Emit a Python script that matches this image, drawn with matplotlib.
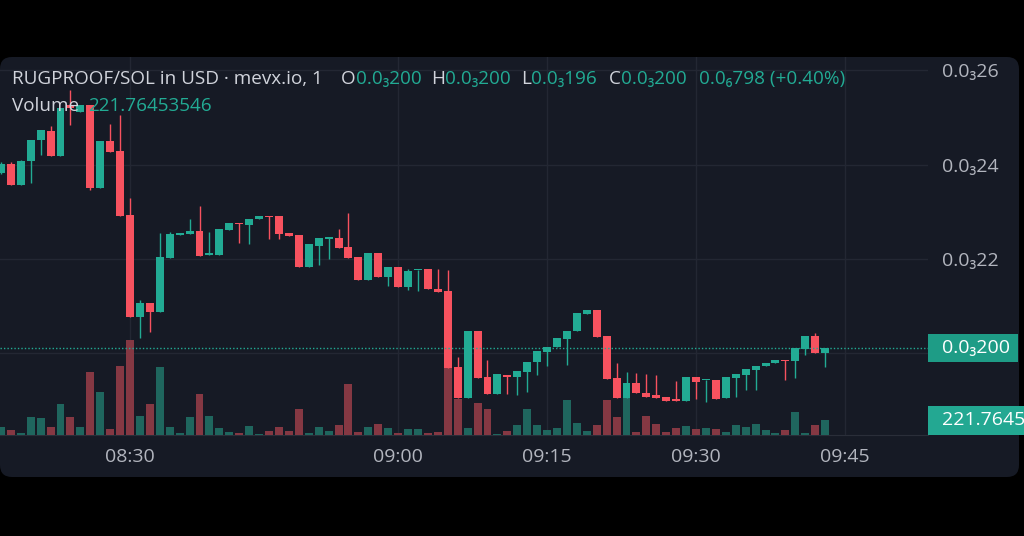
import matplotlib
matplotlib.use("Agg")
import matplotlib.pyplot as plt
from matplotlib.patches import Rectangle, FancyBboxPatch
from matplotlib.transforms import IdentityTransform
import numpy as np

# ---------------- data (prices in millionths of USD) ----------------
opens_e6 = [238.3, 240.1, 235.7, 240.8, 245.1, 247.2, 241.8, 252.6, 251.1, 252.6,
            235.0, 245.0, 242.9, 229.3, 207.7, 210.7, 208.8, 220.3, 225.1, 225.3,
            225.9, 220.8, 220.8, 226.1, 227.7, 227.3, 228.4, 229.1, 229.0, 225.6,
            225.1, 218.2, 222.8, 224.3, 224.4, 222.5, 220.5, 215.6, 221.3, 216.1,
            218.4, 214.1, 217.6, 217.8, 213.6, 213.3, 197.2, 190.5, 204.8, 194.9,
            191.4, 195.4, 195.1, 196.1, 198.1, 200.4, 201.3, 203.1, 204.8, 208.4,
            209.1, 203.6, 194.7, 190.5, 193.7, 191.7, 191.1, 190.7, 190.1, 189.9,
            195.1, 194.3, 194.4, 190.5, 194.7, 195.4, 196.5, 197.3, 197.9, 198.5,
            198.4, 200.9, 203.7, 200.0]
highs_e6 = [240.5, 240.5, 241.0, 245.2, 247.3, 248.2, 252.0, 255.8, 252.6, 252.6,
            245.0, 248.6, 250.5, 232.9, 211.3, 210.7, 225.5, 225.8, 225.6, 228.4,
            231.2, 225.8, 226.3, 227.7, 227.7, 228.4, 229.1, 229.1, 229.0, 225.6,
            225.1, 223.1, 224.5, 224.4, 226.3, 229.7, 220.5, 221.3, 221.3, 218.4,
            218.4, 217.9, 217.7, 217.8, 217.8, 217.7, 199.3, 204.8, 204.8, 198.6,
            195.6, 195.4, 196.3, 198.2, 200.5, 201.4, 203.2, 204.8, 208.5, 209.1,
            209.1, 203.6, 198.0, 196.1, 195.9, 195.6, 195.4, 190.7, 194.2, 195.1,
            195.1, 194.4, 194.4, 194.9, 195.6, 196.6, 197.3, 198.0, 198.5, 198.5,
            201.1, 203.7, 204.3, 201.1]
lows_e6 = [238.0, 235.7, 235.7, 236.1, 242.0, 241.8, 241.8, 248.4, 251.1, 234.6,
           235.0, 242.7, 229.1, 207.7, 203.3, 204.6, 208.8, 220.3, 225.1, 225.3,
           220.6, 220.8, 220.8, 226.1, 223.4, 223.2, 228.4, 224.3, 224.2, 224.9,
           218.2, 218.2, 218.7, 219.9, 222.3, 220.3, 215.6, 215.6, 216.1, 214.3,
           214.1, 213.4, 213.3, 213.6, 213.1, 196.9, 190.5, 190.5, 194.7, 191.4,
           191.4, 191.4, 191.2, 191.9, 195.4, 197.3, 201.3, 197.5, 204.8, 208.4,
           203.4, 194.5, 190.5, 190.5, 191.6, 190.8, 190.5, 189.9, 190.0, 189.9,
           190.3, 189.8, 190.3, 190.5, 190.8, 192.3, 192.3, 197.3, 197.9, 194.4,
           194.7, 199.7, 200.0, 197.1]
closes_e6 = [240.1, 235.7, 240.8, 245.2, 247.3, 241.8, 252.0, 252.0, 252.6, 235.0,
             245.0, 242.7, 229.1, 207.7, 210.7, 208.8, 220.5, 225.3, 225.6, 225.9,
             220.6, 221.2, 226.3, 227.7, 227.4, 228.4, 229.1, 228.9, 225.2, 224.9,
             218.2, 223.1, 224.5, 224.4, 222.3, 220.3, 215.6, 221.3, 216.1, 218.4,
             214.1, 217.5, 217.7, 213.6, 213.1, 196.9, 190.5, 204.8, 194.7, 191.4,
             195.6, 195.1, 196.3, 198.2, 200.5, 201.4, 203.2, 204.8, 208.5, 209.1,
             203.4, 194.5, 190.5, 193.7, 191.6, 190.8, 190.5, 189.9, 190.0, 195.1,
             193.9, 194.4, 190.3, 194.9, 195.6, 196.6, 197.3, 198.0, 198.5, 198.3,
             201.1, 203.7, 200.0, 201.1]
volumes = [123, 74, 34, 262, 247, 123, 458, 262, 114, 936,
           640, 89, 1020, 1404, 285, 458, 1001, 114, 34, 262,
           602, 285, 108, 49, 25, 137, 15, 64, 123, 64,
           380, 34, 123, 64, 148, 754, 49, 123, 163, 99,
           25, 84, 93, 25, 49, 986, 532, 103, 473, 384,
           22, 52, 148, 384, 148, 74, 103, 517, 177, 52,
           148, 517, 259, 547, 49, 281, 163, 49, 99, 133,
           84, 99, 84, 49, 148, 123, 163, 74, 34, 74,
           344, 34, 148, 221.76453546]

time_tick_index = [13, 40, 55, 70, 85]
time_tick_labels = ["08:30", "09:00", "09:15", "09:30", "09:45"]
price_ticks = [0.00020, 0.00022, 0.00024, 0.00026]
price_tick_labels = ["", "0.0\u208322", "0.0\u208324", "0.0\u208326"]

title_text = "RUGPROOF/SOL in USD \u00b7 mevx.io, 1"
ohlc_letters = ["O", "H", "L", "C"]
ohlc_values = ["0.0\u2083200", "0.0\u2083200", "0.0\u2083196", "0.0\u2083200"]
change_text = "0.0\u2086798 (+0.40%)"
volume_label = "Volume"
volume_value_text = "221.76453546"
last_price_text = "0.0\u2083200"

# ---------------- style ----------------
W, H = 1024, 536
BG = "#161a25"
OUTER = "#000000"
GRID = "#232733"
UP = "#22ab94"
DOWN = "#f7525f"
UP_VOL = "#1f665e"
DOWN_VOL = "#853843"
AXTXT = "#b2b5be"
TITLE = "#d1d4dc"
FONT = ["Open Sans", "DejaVu Sans"]
FS = 14.0
FS_LEG = 13.6
plt.rcParams["font.family"] = FONT

o = np.array(opens_e6) * 1e-6
hi = np.array(highs_e6) * 1e-6
lo = np.array(lows_e6) * 1e-6
c = np.array(closes_e6) * 1e-6
v = np.array(volumes, dtype=float)
idx = np.arange(len(o))
up = c >= o

fig = plt.figure(figsize=(W / 100, H / 100), dpi=100, facecolor=OUTER)
renderer = fig.canvas.get_renderer()

# panel with rounded corners (pixel coordinates)
panel = FancyBboxPatch((0, H - 477), 1019, 477 - 57,
                       boxstyle="round,pad=0,rounding_size=12",
                       transform=IdentityTransform(), facecolor=BG,
                       edgecolor="none", zorder=0)
fig.patches.append(panel)

L, R, T, B = 0, 928, 57, 435
rect = [L / W, 1 - B / H, (R - L) / W, (B - T) / H]
XLIM = (-0.09, 93.36)
YLIM = (0.00018272, 0.00026278)
VOL_TOP = 5587

axg = fig.add_axes(rect, zorder=1)
axv = fig.add_axes(rect, zorder=2)
axp = fig.add_axes(rect, zorder=3)
for a in (axg, axv, axp):
    a.set_facecolor("none")
    a.set_xlim(*XLIM)
    for s in a.spines.values():
        s.set_visible(False)
axg.set_ylim(*YLIM)
axp.set_ylim(*YLIM)
axv.set_ylim(0, VOL_TOP)

# grid layer
axg.set_yticks(price_ticks)
axg.set_xticks(time_tick_index)
axg.grid(True, color=GRID, lw=1)
axg.tick_params(left=False, bottom=False, labelleft=False, labelbottom=False)
axg.spines["bottom"].set_visible(True)
axg.spines["bottom"].set_color("#2a2e39")

# volume layer
axv.bar(idx, v, width=0.8, color=np.where(up, UP_VOL, DOWN_VOL), linewidth=0)
axv.set_xticks([]); axv.set_yticks([])

# candles
cols = np.where(up, UP, DOWN)
axp.vlines(idx, lo, hi, colors=cols, lw=1.0)
body_lo = np.minimum(o, c)
body_h = np.maximum(np.abs(c - o), 0.3e-6)
axp.bar(idx, body_h, bottom=body_lo, width=0.8, color=cols, linewidth=0)
axp.axhline(c[-1], color=UP, lw=1, ls=(0, (1, 1.5)))

axp.yaxis.tick_right()
axp.set_yticks(price_ticks)
axp.set_yticklabels(price_tick_labels)
axp.set_xticks(time_tick_index)
axp.set_xticklabels(time_tick_labels)
axp.tick_params(axis="y", length=0, pad=10, labelsize=FS, labelcolor=AXTXT)
axp.tick_params(axis="x", length=0, pad=9, labelsize=FS, labelcolor=AXTXT)

# price label box
py_last = axp.transData.transform((0, c[-1]))[1]
fig.patches.append(Rectangle((928, py_last - 14), 90, 28, transform=IdentityTransform(),
                             facecolor="#1e9c86", edgecolor="none", zorder=5))
fig.text(942 / W, py_last / H, last_price_text, color="#ffffff", fontsize=FS,
         va="center", ha="left", zorder=6)

# volume label box
vy_last = axv.transData.transform((0, v[-1]))[1]
fig.patches.append(Rectangle((928, vy_last - 15), 100, 29, transform=IdentityTransform(),
                             facecolor="#23a892", edgecolor="none", zorder=5))
fig.text(942 / W, vy_last / H, volume_value_text, color="#ffffff", fontsize=FS,
         va="center", ha="left", zorder=6, clip_on=True)

# legend texts
def ftxt(px, py, s, color):
    t = fig.text(px / W, 1 - py / H, s, color=color, fontsize=FS_LEG, va="baseline",
                 ha="left", zorder=7)
    return t.get_window_extent(renderer).x1

ftxt(12, 84, title_text, TITLE)
letter_x = [341, 431, 521, 609]
for lx, let, val in zip(letter_x, ohlc_letters, ohlc_values):
    end = ftxt(lx, 84, let, TITLE)
    ftxt(end + 0.5, 84, val, UP)
ftxt(699, 84, change_text, UP)
ftxt(12, 111, volume_label, TITLE)
ftxt(88, 111, volume_value_text, UP)

fig.savefig("out.png", dpi=100, facecolor=OUTER)
